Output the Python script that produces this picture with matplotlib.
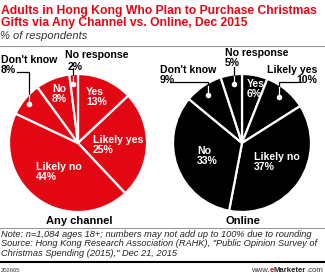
import matplotlib
matplotlib.use("Agg")
import matplotlib.pyplot as plt

# Data
categories_any = ["Yes", "Likely yes", "Likely no", "Don't know", "No", "No response"]
values_any = [13, 25, 44, 8, 8, 2]
categories_online = ["Yes", "Likely yes", "Likely no", "No", "Don't know", "No response"]
values_online = [6, 10, 37, 33, 9, 5]
pie_titles = ["Any channel", "Online"]

RED = "#e30613"
W, H = 325, 277
plt.rcParams['font.family'] = ['Liberation Sans', 'DejaVu Sans']

fig = plt.figure(figsize=(W / 100, H / 100), dpi=100)
ax = fig.add_axes([0, 0, 1, 1])

def Y(y):
    return H - y

r = 69
ax.pie(values_any, startangle=90, counterclock=False, center=(78, Y(143)), radius=r,
       colors=[RED] * len(values_any),
       wedgeprops=dict(edgecolor="white", linewidth=1.6))
ax.pie(values_online, startangle=90, counterclock=False, center=(242, Y(143)), radius=r,
       colors=["black"] * len(values_online),
       wedgeprops=dict(edgecolor="white", linewidth=1.6))
ax.set_xlim(0, W)
ax.set_ylim(0, H)
ax.set_aspect("auto")
ax.axis("off")

fs = 7.6
def lab(x, y, s, color="white", ha="left"):
    ax.text(x, Y(y), s, color=color, fontsize=fs, fontweight="bold", ha=ha, va="top",
            linespacing=1.0)

# Inside labels - Any channel
lab(86, 87, f"{categories_any[0]}\n{values_any[0]}%")
lab(93, 135, f"{categories_any[1]}\n{values_any[1]}%")
lab(36, 162, f"{categories_any[2]}\n{values_any[2]}%")
lab(52, 84, f"{categories_any[4]}\n{values_any[4]}%")
# Outside labels - Any channel
lab(1, 55, f"{categories_any[3]}\n{values_any[3]}%", color="black")
lab(65, 50, f"{categories_any[5]}", color="black")
lab(68, 62, f"{values_any[5]}%", color="black")
# Inside labels - Online
lab(247, 79, f"{categories_online[0]}\n{values_online[0]}%")
lab(254, 152, f"{categories_online[2]}\n{values_online[2]}%")
lab(197, 146, f"{categories_online[3]}\n{values_online[3]}%")
# Outside labels - Online
lab(160, 65, f"{categories_online[4]}\n{values_online[4]}%", color="black")
lab(225, 48, f"{categories_online[5]}\n{values_online[5]}%", color="black")
lab(317, 65, f"{categories_online[1]}\n{values_online[1]}%", color="black", ha="right")

# Leader lines
def leader(xs, ys):
    ax.plot(xs, [Y(v) for v in ys], color="black", lw=0.9)
    ax.plot(xs[-1], Y(ys[-1]), "o", color="white", ms=4, mec="none")

leader([17, 29, 29], [72, 72, 104])
leader([73, 73], [68, 84])
leader([234, 234], [67, 84])
leader([170, 208, 208], [82, 82, 95])
leader([298, 279, 279], [82, 82, 97])
# white parts of lines inside the pie
ax.plot([29, 29], [Y(95), Y(104)], color="white", lw=0.9)
ax.plot([73, 73], [Y(76), Y(84)], color="white", lw=0.9)
ax.plot([234, 234], [Y(76), Y(84)], color="white", lw=0.9)
ax.plot([208, 208], [Y(86), Y(95)], color="white", lw=0.9)
ax.plot([279, 279], [Y(87), Y(97)], color="white", lw=0.9)

# Pie titles
ax.text(79, Y(221), pie_titles[0], fontsize=8, fontweight="bold", ha="center", va="center")
ax.text(243, Y(221), pie_titles[1], fontsize=8, fontweight="bold", ha="center", va="center")

# Title
fig.text(1 / W, 1 - 5 / H,
         "Adults in Hong Kong Who Plan to Purchase Christmas\nGifts via Any Channel vs. Online, Dec 2015",
         color=RED, fontsize=8.7, fontweight="bold", ha="left", va="top", linespacing=1.0)
fig.text(0, 1 - 31 / H, "% of respondents", fontsize=8.0, style="italic",
         color="#333333", ha="left", va="top")

# Rules
ax.plot([0, W], [Y(46), Y(46)], color="#999999", lw=0.8)
ax.plot([0, W], [Y(228), Y(228)], color="#999999", lw=0.8)
ax.plot([0, W], [Y(262), Y(262)], color="black", lw=1.5)

# Notes
fig.text(1 / W, 1 - 230 / H,
         "Note: n=1,084 ages 18+; numbers may not add up to 100% due to rounding\n"
         "Source: Hong Kong Research Association (RAHK), \"Public Opinion Survey of\n"
         "Christmas Spending (2015),\" Dec 21, 2015",
         fontsize=6.7, style="italic", color="#222222", ha="left", va="top", linespacing=1.05)
fig.text(1 / W, 1 - 271 / H, "202665", fontsize=4.2, color="#333333", ha="left", va="center")

# Footer brand, built right to left
renderer = fig.canvas.get_renderer()
parts = [(".com", "normal", "#333333"), ("Marketer", "bold", "#222222"),
         ("e", "bold", RED), ("www.", "normal", "#333333")]
xr = W - 2
for txt, wt, col in parts:
    t = ax.text(xr, Y(271), txt, fontsize=5.6, fontweight=wt, color=col,
                ha="right", va="center")
    bb = t.get_window_extent(renderer=renderer)
    xr -= bb.width * W / fig.bbox.width

fig.savefig("out.png", dpi=100)
